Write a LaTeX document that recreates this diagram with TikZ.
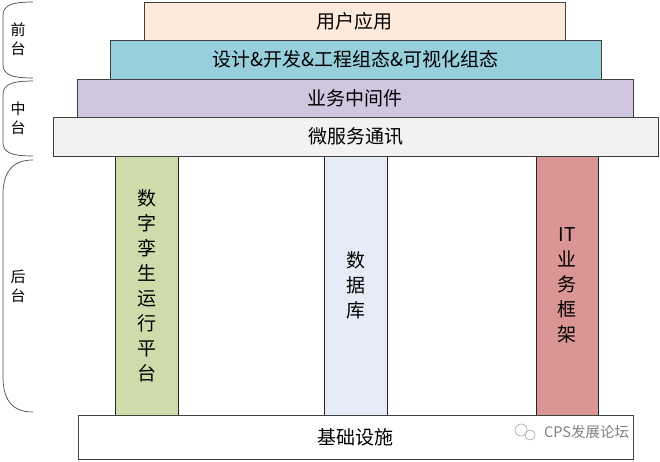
\documentclass[tikz,border=0pt]{standalone}
\usepackage{fontspec}
\setmainfont{Noto Sans CJK SC}
\begin{document}
\begin{tikzpicture}[x=1pt,y=-1pt,
  layer/.style={draw=black!75, line width=0.8pt, inner sep=0pt, font=\fontsize{19}{23}\selectfont},
  pillar/.style={draw=black!85, line width=0.8pt, inner sep=0pt, align=center, font=\fontsize{19}{25}\selectfont},
  brace/.style={draw=black!70, line width=0.7pt},
  side/.style={align=center, font=\fontsize{15}{19}\selectfont}]
\useasboundingbox (0,0) rectangle (660,462);
\definecolor{cpeach}{HTML}{FDEADA}
\definecolor{caqua}{HTML}{97CFDC}
\definecolor{cpurple}{HTML}{D0C6DF}
\definecolor{cgrey}{HTML}{F2F2F2}
\definecolor{cgreen}{HTML}{CEDCAB}
\definecolor{cblue}{HTML}{E5ECF7}
\definecolor{cred}{HTML}{DA9694}
% pillars
\node[pillar, fill=cgreen, minimum width=63pt, minimum height=259pt] (p1) at (146.5,285.5) {数\\字\\孪\\生\\运\\行\\平\\台};
\node[pillar, fill=cblue, minimum width=63pt, minimum height=259pt] (p2) at (355.5,285.5) {数\\据\\库};
\node[pillar, fill=cred, minimum width=62pt, minimum height=259pt] (p3) at (567,285.5) {IT\\业\\务\\框\\架};
% layers
\node[layer, fill=cpeach, minimum width=421pt, minimum height=38pt] (l1) at (354.5,21) {用户应用};
\node[layer, fill=caqua, minimum width=491pt, minimum height=39pt] (l2) at (355.5,59.5) {设计\&开发\&工程组态\&可视化组态};
\node[layer, fill=cpurple, minimum width=556pt, minimum height=38pt] (l3) at (355,98) {业务中间件};
\node[layer, fill=cgrey, minimum width=605pt, minimum height=39pt] (l4) at (355.5,136.5) {微服务通讯};
\node[layer, fill=white, minimum width=555pt, minimum height=44pt] (base) at (355.5,437) {基础设施};
% braces
\draw[brace] (33,2) .. controls (10,2) and (3,6) .. (3,16) -- (3,64) .. controls (3,74) and (10,78) .. (33,78);
\draw[brace] (33,81) .. controls (10,81) and (3,85) .. (3,95) -- (3,142) .. controls (3,152) and (10,156) .. (33,156);
\draw[brace] (33,160) .. controls (10,160) and (3,175) .. (3,195) -- (3,377) .. controls (3,397) and (10,412) .. (33,412);
\node[side] (s1) at (18,39) {前\\台};
\node[side] (s2) at (18,118) {中\\台};
\node[side] (s3) at (18,286) {后\\台};
% watermark
\draw[black!35, line width=0.6pt] (521,430) circle (6pt);
\draw[black!35, line width=0.6pt] (530,435) circle (5pt);
\node[text=black!50, font=\fontsize{14.5}{17}\selectfont, anchor=west, inner sep=0pt] (wm) at (544,432) {CPS发展论坛};
\end{tikzpicture}
\end{document}
